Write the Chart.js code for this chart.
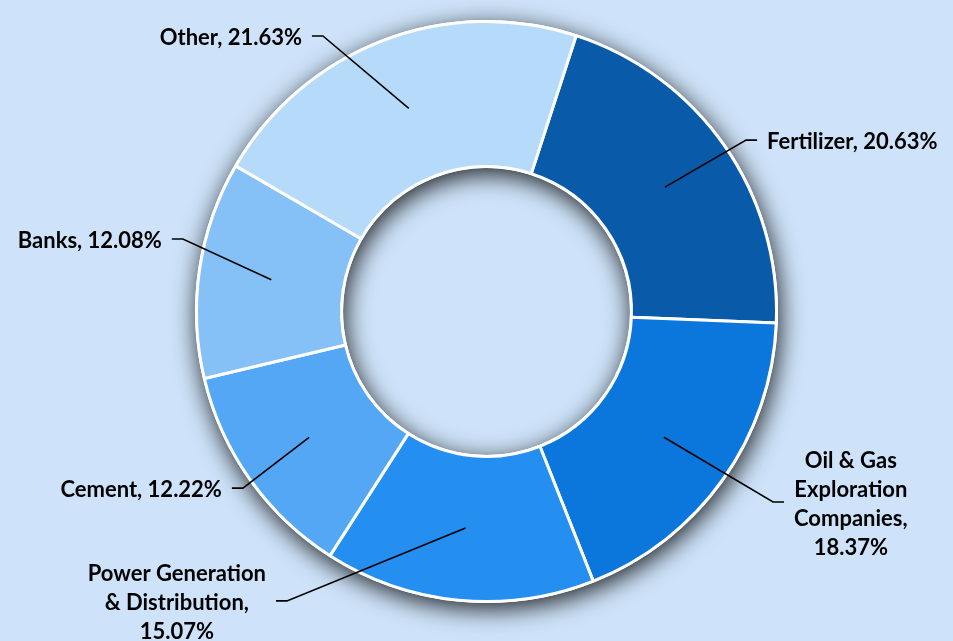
<!DOCTYPE html>
<html>
<head>
<meta charset="utf-8">
<script src="https://cdn.jsdelivr.net/npm/chart.js@4.4.1/dist/chart.umd.min.js"></script>
<style>
  html, body { margin: 0; padding: 0; background: #cee3f9; }
  #wrap { width: 953px; height: 641px; position: relative; }
  canvas { display: block; }
</style>
</head>
<body>
<div id="wrap"><canvas id="c" width="953" height="641"></canvas></div>
<script>
// ---- data ----
const categories = [
  'Fertilizer',
  ['Oil & Gas', 'Exploration', 'Companies'],
  ['Power Generation', '& Distribution'],
  'Cement',
  'Banks',
  'Other'
];
const shares = [20.63, 18.37, 15.07, 12.22, 12.08, 21.63];
const sliceColors = ['#0a5aaa', '#0b76db', '#248ef1', '#53a7f5', '#85c0f7', '#b6dafa'];

// ---- label layout (elbow of leader line, relative to centre, in units of outer radius) ----
const labelLayout = [
  { ex: 0.895, ey: -0.591 },
  { ex: 0.988, ey: 0.657 },
  { ex: -0.688, ey: 0.998 },
  { ex: -0.840, ey: 0.609 },
  { ex: -1.047, ey: -0.250 },
  { ex: -0.564, ey: -0.950 }
];

function labelLines(cat, val) {
  const pct = val.toFixed(2) + '%';
  if (Array.isArray(cat)) {
    const lines = cat.slice();
    lines[lines.length - 1] = lines[lines.length - 1] + ',';
    lines.push(pct);
    return lines;
  }
  return [cat + ', ' + pct];
}

const ringShadow = {
  id: 'ringShadow',
  beforeDatasetsDraw(chart) {
    const arc = chart.getDatasetMeta(0).data[0];
    if (!arc) return;
    const { x, y, outerRadius, innerRadius } = arc;
    const ctx = chart.ctx;
    ctx.save();
    ctx.shadowColor = 'rgba(0,0,0,0.85)';
    ctx.shadowBlur = 24;
    ctx.shadowOffsetX = 2;
    ctx.shadowOffsetY = 6;
    ctx.fillStyle = '#ffffff';
    ctx.beginPath();
    ctx.arc(x, y, outerRadius + 1.5, 0, Math.PI * 2);
    ctx.arc(x, y, innerRadius - 1.5, 0, Math.PI * 2, true);
    ctx.fill();
    ctx.restore();
  }
};

const leaderLabels = {
  id: 'leaderLabels',
  afterDatasetsDraw(chart) {
    const meta = chart.getDatasetMeta(0);
    const ctx = chart.ctx;
    const font = 'bold 22px Lato';
    const lineH = 29;
    const hLen = 11, gap = 10;
    meta.data.forEach((arc, i) => {
      const cx = arc.x, cy = arc.y, R = arc.outerRadius;
      const start = arc.getCenterPoint();
      const lay = labelLayout[i];
      const side = lay.ex >= 0 ? 1 : -1;
      const exx = cx + lay.ex * R, eyy = cy + lay.ey * R;
      const hx = exx + side * hLen;
      ctx.save();
      ctx.strokeStyle = '#000000';
      ctx.lineWidth = 1.6;
      ctx.beginPath();
      ctx.moveTo(start.x, start.y);
      ctx.lineTo(exx, eyy);
      ctx.lineTo(hx, eyy);
      ctx.stroke();

      const lines = labelLines(chart.data.labels[i], chart.data.datasets[0].data[i]);
      ctx.font = font;
      const w = Math.max(...lines.map(l => ctx.measureText(l).width));
      const blockCx = side > 0 ? hx + gap + w / 2 : hx - gap - w / 2;
      const blockCy = eyy + 2;
      ctx.fillStyle = '#000000';
      ctx.textAlign = 'center';
      ctx.textBaseline = 'middle';
      const top = blockCy - (lines.length - 1) * lineH / 2;
      lines.forEach((l, k) => ctx.fillText(l, blockCx, top + k * lineH));
      ctx.restore();
    });
  }
};

new Chart(document.getElementById('c'), {
  type: 'doughnut',
  data: {
    labels: categories,
    datasets: [{
      data: shares,
      backgroundColor: sliceColors,
      borderColor: '#ffffff',
      borderWidth: 3,
      hoverOffset: 0
    }]
  },
  options: {
    responsive: false,
    animation: false,
    devicePixelRatio: 1,
    rotation: 18,
    cutout: '50%',
    layout: { padding: { top: 20, bottom: 38, left: 20, right: 0 } },
    plugins: {
      legend: { display: false },
      tooltip: { enabled: false },
      title: { display: false }
    }
  },
  plugins: [ringShadow, leaderLabels]
});
</script>
</body>
</html>
